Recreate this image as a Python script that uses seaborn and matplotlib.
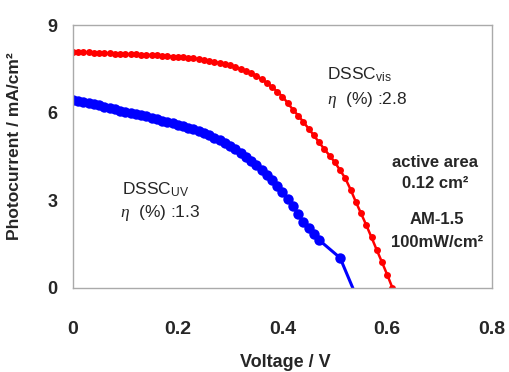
import matplotlib
matplotlib.use("Agg")
import matplotlib.pyplot as plt
import seaborn as sns
import pandas as pd

# ---- data ----
vis_voltage = [0.00, 0.01, 0.02, 0.03, 0.04, 0.05, 0.06, 0.07, 0.08, 0.09,
               0.10, 0.11, 0.12, 0.13, 0.14, 0.15, 0.16, 0.17, 0.18, 0.19,
               0.20, 0.21, 0.22, 0.23, 0.24, 0.25, 0.26, 0.27, 0.28, 0.29,
               0.30, 0.31, 0.32, 0.33, 0.34, 0.35, 0.36, 0.37, 0.38, 0.39,
               0.40, 0.41, 0.42, 0.43, 0.44, 0.45, 0.46, 0.47, 0.48, 0.49,
               0.50, 0.51, 0.52, 0.53, 0.54, 0.55, 0.56, 0.57, 0.58, 0.59,
               0.60, 0.61]
vis_current = [8.07, 8.07, 8.06, 8.06, 8.05, 8.05, 8.04, 8.03, 8.02, 8.02,
               8.01, 8.00, 8.00, 7.99, 7.98, 7.97, 7.96, 7.95, 7.94, 7.92,
               7.91, 7.89, 7.88, 7.86, 7.84, 7.81, 7.78, 7.74, 7.70, 7.66,
               7.62, 7.56, 7.50, 7.43, 7.35, 7.26, 7.15, 7.02, 6.88, 6.72,
               6.55, 6.33, 6.10, 5.90, 5.68, 5.45, 5.22, 4.98, 4.75, 4.53,
               4.30, 4.03, 3.75, 3.37, 2.95, 2.55, 2.15, 1.73, 1.30, 0.88,
               0.45, 0.00]

uv_voltage = [0.00, 0.01, 0.02, 0.03, 0.04, 0.05, 0.06, 0.07, 0.08, 0.09,
              0.10, 0.11, 0.12, 0.13, 0.14, 0.15, 0.16, 0.17, 0.18, 0.19,
              0.20, 0.21, 0.22, 0.23, 0.24, 0.25, 0.26, 0.27, 0.28, 0.29,
              0.30, 0.31, 0.32, 0.33, 0.34, 0.35, 0.36, 0.37, 0.38, 0.39,
              0.40, 0.41, 0.42, 0.43, 0.44, 0.45, 0.46, 0.47, 0.51, 0.546]
uv_current = [6.45, 6.41, 6.37, 6.33, 6.29, 6.25, 6.20, 6.16, 6.12, 6.07,
              6.03, 5.99, 5.95, 5.91, 5.87, 5.83, 5.78, 5.73, 5.68, 5.64,
              5.59, 5.54, 5.49, 5.43, 5.37, 5.30, 5.22, 5.14, 5.05, 4.95,
              4.85, 4.74, 4.62, 4.49, 4.36, 4.21, 4.05, 3.88, 3.70, 3.50,
              3.28, 3.05, 2.80, 2.53, 2.25, 2.05, 1.85, 1.64, 1.03, -0.50]

x_ticks = [0, 0.2, 0.4, 0.6, 0.8]
x_ticklabels = ["0", "0.2", "0.4", "0.6", "0.8"]
y_ticks = [0, 3, 6, 9]
y_ticklabels = ["0", "3", "6", "9"]

sns.set_style("white")
plt.rcParams["font.family"] = ["Liberation Sans", "DejaVu Sans"]
plt.rcParams["mathtext.fontset"] = "custom"
plt.rcParams["mathtext.rm"] = "Liberation Sans"
plt.rcParams["mathtext.it"] = "Liberation Serif:italic"
plt.rcParams["mathtext.bf"] = "Liberation Sans:bold"

fig = plt.figure(figsize=(5.10, 3.72), dpi=100)
ax = fig.add_axes([73 / 510, (372 - 288) / 372, (492 - 73) / 510, (288 - 25) / 372])

vis_df = pd.DataFrame({"V": vis_voltage, "I": vis_current})
uv_df = pd.DataFrame({"V": uv_voltage, "I": uv_current})

sns.lineplot(data=uv_df, x="V", y="I", ax=ax, color="#0000ff", linewidth=2.2,
             marker="o", markersize=7.5, markeredgewidth=0, sort=False)
sns.lineplot(data=vis_df, x="V", y="I", ax=ax, color="#ff0000", linewidth=1.8,
             marker="o", markersize=5, markeredgewidth=0, sort=False)

ax.set_xlim(0, 0.8)
ax.set_ylim(0, 9)
ax.set_xticks(x_ticks)
ax.set_xticklabels(x_ticklabels)
ax.set_yticks(y_ticks)
ax.set_yticklabels(y_ticklabels)

for s in ax.spines.values():
    s.set_color("#aaaaaa")
    s.set_linewidth(1.0)

ax.tick_params(axis="both", direction="in", length=4, width=1, color="#aaaaaa")
ax.tick_params(axis="x", pad=24, labelsize=14)
ax.tick_params(axis="y", pad=11, labelsize=13)
for lab in ax.get_xticklabels() + ax.get_yticklabels():
    lab.set_fontweight("bold")

ax.set_xlabel("Voltage / V", fontsize=13, fontweight="bold")
ax.set_ylabel("Photocurrent / mA/cm²", fontsize=12.5, fontweight="bold")
ax.xaxis.set_label_coords(0.506, -0.252)
ax.yaxis.set_label_coords(-0.122, 0.54)

# annotations
ax.text(0.485, 7.29, r"DSSC$_{\mathrm{vis}}$", fontsize=12.5, va="center", ha="left")
ax.text(0.485, 6.43, r"$\eta$  (%) :2.8", fontsize=12.5, va="center", ha="left")
ax.text(0.093, 3.35, r"DSSC$_{\mathrm{UV}}$", fontsize=12.5, va="center", ha="left")
ax.text(0.090, 2.57, r"$\eta$  (%) :1.3", fontsize=12.5, va="center", ha="left")

ax.text(0.692, 4.31, "active area", fontsize=12, fontweight="bold", va="center", ha="center")
ax.text(0.692, 3.59, "0.12 cm²", fontsize=12, fontweight="bold", va="center", ha="center")
ax.text(0.695, 2.33, "AM-1.5", fontsize=12, fontweight="bold", va="center", ha="center")
ax.text(0.695, 1.54, "100mW/cm²", fontsize=12, fontweight="bold", va="center", ha="center")

fig.savefig("out.png", dpi=100)
